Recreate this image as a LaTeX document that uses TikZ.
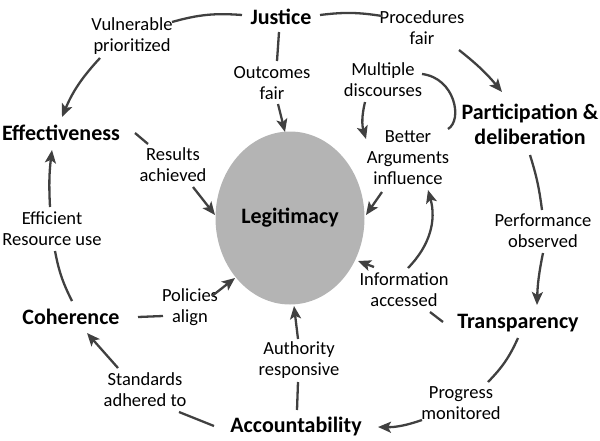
\documentclass[tikz,border=0pt]{standalone}
\usepackage{fontspec}
\setmainfont{Carlito}
\usetikzlibrary{arrows.meta,calc,shapes.geometric}
\definecolor{linegray}{RGB}{64,64,64}
\definecolor{ellgray}{RGB}{180,180,180}
\begin{document}
\begin{tikzpicture}[x=1pt,y=-1pt,
  main/.style={font=\fontsize{22}{25}\selectfont\bfseries,align=center,inner sep=0pt},
  lab/.style={font=\fontsize{18.5}{21}\selectfont,align=center,inner sep=0pt},
  conn/.style={draw=linegray,line width=2.3pt},
  arr/.style={conn,-{Stealth[length=13pt,width=11pt,inset=3pt]}}]
\useasboundingbox (0,0) rectangle (600,440);
% central ellipse
\node[main,ellipse,fill=ellgray,minimum width=149pt,minimum height=173pt] (leg) at (290,218) {Legitimacy};
% main concepts
\node[main] (just) at (281,17) {Justice};
\node[main] (part) at (530,124) {Participation \&\\deliberation};
\node[main] (trans) at (518,323) {Transparency};
\node[main] (acc) at (296,427) {Accountability};
\node[main] (coh) at (71,317) {Coherence};
\node[main] (eff) at (61,133) {Effectiveness};
% labels
\node[lab] (vul) at (132,36) {Vulnerable\\prioritized};
\node[lab] (proc) at (422,28) {Procedures\\fair};
\node[lab] (outc) at (272,83) {Outcomes\\fair};
\node[lab] (mult) at (383,80) {Multiple\\discourses};
\node[lab] (bett) at (408,158) {Better\\Arguments\\influence};
\node[lab] (res) at (173,165) {Results\\achieved};
\node[lab] (perf) at (543,231) {Performance\\observed};
\node[lab] (effi) at (52,229) {Efficient\\Resource use};
\node[lab] (pol) at (190,307) {Policies\\align};
\node[lab] (info) at (404,290) {Information\\accessed};
\node[lab] (auth) at (299,360) {Authority\\responsive};
\node[lab] (stan) at (145,390) {Standards\\adhered to};
\node[lab] (prog) at (461,403) {Progress\\monitored};
% connectors
\draw[conn] ($(just)+(-39,-2)$) to[bend right=10] ($(vul)+(40,-14)$);
\draw[arr] ($(vul)+(-32,22)$) to[bend right=10] ($(eff)+(1,-16)$);
\draw[conn] ($(just)+(39,-2)$) to[bend left=8] ($(proc)+(-40,-12)$);
\draw[arr] ($(proc)+(37,22)$) to[bend left=6] ($(part)+(-28,-32)$);
\draw[conn] ($(just)+(-2,15)$) -- ($(outc)+(5,-22)$);
\draw[arr] ($(outc)+(6,21)$) -- ($(leg)+(-5,-86)$);
\draw[conn] ($(part)+(-82,5)$) .. controls ($(part)+(-67,-4)$) and ($(mult)+(72,-2)$) .. ($(mult)+(39,-6)$);
\draw[arr] ($(mult)+(-18,22)$) to[bend right=15] ($(bett)+(-42,-19)$);
\draw[arr] ($(bett)+(-26,34)$) -- ($(leg)+(76,-3)$);
\draw[conn] ($(part)+(0,31)$) to[bend left=5] ($(perf)+(-1,-21)$);
\draw[arr] ($(perf)+(0,22)$) to[bend right=5] ($(trans)+(19,-18)$);
\draw[conn] ($(trans)+(-75,-1)$) -- ($(info)+(26,22)$);
\draw[arr] ($(info)+(-30,-23)$) -- ($(leg)+(68,43)$);
\draw[arr] ($(info)+(4,-22)$) to[bend right=30] ($(bett)+(20,32)$);
\draw[conn] ($(trans)+(0,15)$) to[bend left=10] ($(prog)+(27,-21)$);
\draw[arr] ($(prog)+(-39,17)$) to[bend left=10] ($(acc)+(82,0)$);
\draw[conn] ($(acc)+(1,-17)$) -- ($(auth)+(-1,22)$);
\draw[arr] ($(auth)+(-1,-21)$) -- ($(leg)+(4,88)$);
\draw[conn] ($(acc)+(-82,-1)$) -- ($(stan)+(34,22)$);
\draw[arr] ($(stan)+(-27,-22)$) -- ($(coh)+(16,16)$);
\draw[conn] ($(coh)+(67,0)$) -- ($(pol)+(-27,9)$);
\draw[arr] ($(pol)+(22,-11)$) -- ($(leg)+(-55,60)$);
\draw[conn] ($(coh)+(1,-16)$) to[bend left=8] ($(effi)+(3,22)$);
\draw[arr] ($(effi)+(-2,-22)$) to[bend left=5] ($(eff)+(-9,17)$);
\draw[conn] ($(eff)+(74,0)$) -- ($(res)+(-25,-21)$);
\draw[arr] ($(res)+(20,22)$) -- ($(leg)+(-75,-3)$);
\end{tikzpicture}
\end{document}
